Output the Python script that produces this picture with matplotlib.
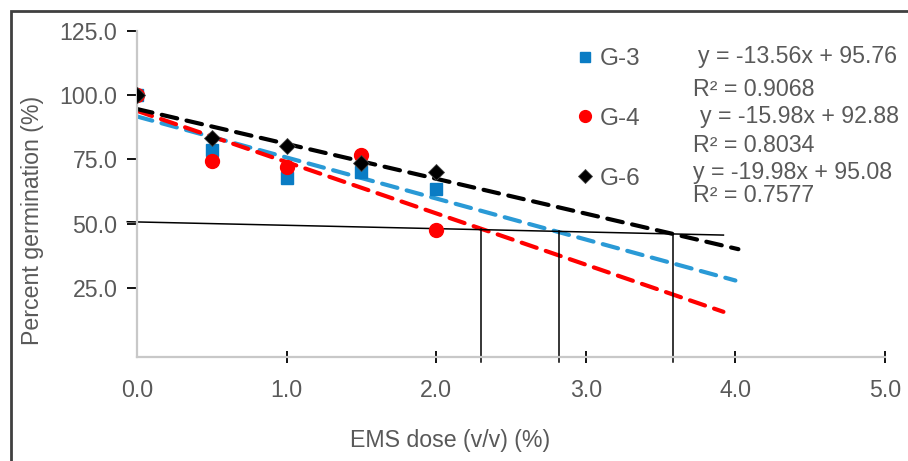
import matplotlib
matplotlib.use("Agg")

import matplotlib.pyplot as plt
from matplotlib.patches import Rectangle

plt.rcParams["font.family"] = ["Liberation Sans", "DejaVu Sans"]

# data
doses = [0.0, 0.5, 1.0, 1.5, 2.0]
g3 = [100.0, 78.8, 67.9, 70.2, 63.3]
g4 = [100.0, 74.4, 72.1, 76.7, 47.5]
g6 = [100.0, 83.4, 80.2, 73.5, 70.0]

# dashed trend lines: start and end points as drawn in the picture
trend_g3_x, trend_g3_y = [0.0, 4.00], [91.7, 27.8]
trend_g4_x, trend_g4_y = [0.0, 3.92], [93.9, 15.6]
trend_g6_x, trend_g6_y = [0.0, 4.02], [94.6, 40.0]

eq_labels = ["y = -13.56x + 95.76", "R² = 0.9068",
             "y = -15.98x + 92.88", "R² = 0.8034",
             "y = -19.98x + 95.08", "R² = 0.7577"]

# LD50 read-off construction
ref_x = [-0.065, 3.92]
ref_y = [50.7, 45.5]
cut_x = [2.30, 2.82, 3.58]
cut_top = [47.7, 47.0, 46.0]

xticks = [0, 1, 2, 3, 4, 5]
yticks = [25, 50, 75, 100, 125]

BLUE_PT = "#0A7CC4"
BLUE_LN = "#2A9AD6"
RED = "#FF0000"
GREY_TXT = "#595959"
FS = 16.7

W, H = 908, 461
fig = plt.figure(figsize=(W / 100, H / 100), dpi=100)
ax = fig.add_axes([137 / W, (H - 357) / H, 748 / W, 326 / H])

for tx, ty, col in [(trend_g3_x, trend_g3_y, BLUE_LN),
                    (trend_g4_x, trend_g4_y, RED),
                    (trend_g6_x, trend_g6_y, "black")]:
    ax.plot(tx, ty, color=col, lw=3.0, ls=(0, (3.8, 2.3)),
            dash_capstyle="round", zorder=2)

ax.plot(doses, g3, "s", color=BLUE_PT, ms=8, ls="none", label="G-3", zorder=3)
ax.plot(doses, g4, "o", color=RED, ms=10, ls="none", label="G-4", zorder=3)
ax.plot(doses, g6, "D", color="black", mec="#444", mew=0.6, ms=8.5, ls="none",
        label="G-6", zorder=4)

ax.plot(ref_x, ref_y, color="black", lw=1.1, clip_on=False, zorder=2)
for xc, yt in zip(cut_x, cut_top):
    ax.plot([xc, xc], [yt, -4], color="black", lw=1.1, clip_on=False, zorder=2)

ax.set_xlim(0, 5)
ax.set_ylim(-2, 125)
ax.set_xticks(xticks)
ax.set_xticklabels([f"{v:.1f}" for v in xticks])
ax.set_yticks(yticks)
ax.set_yticklabels([f"{v:.1f}" for v in yticks])

for s in ["top", "right"]:
    ax.spines[s].set_visible(False)
for s in ["left", "bottom"]:
    ax.spines[s].set_color("#C8C8C8")
    ax.spines[s].set_linewidth(1.6)

ax.tick_params(axis="y", direction="out", length=7.2, width=1.3, color="black",
               pad=7, labelsize=FS, labelcolor=GREY_TXT)
ax.tick_params(axis="x", direction="inout", length=9, width=1.3, color="black",
               pad=11.5, labelsize=FS, labelcolor=GREY_TXT)
ax.xaxis.get_major_ticks()[0].tick1line.set_visible(False)

fig.text(33 / W, 1 - 220 / H, "Percent germination (%)", rotation=90,
         ha="center", va="center", fontsize=FS, color=GREY_TXT)
fig.text(450 / W, 1 - 440 / H, "EMS dose (v/v) (%)",
         ha="center", va="center", fontsize=FS, color=GREY_TXT)

leg = ax.legend(loc="upper left", bbox_to_anchor=(578 / W, 1 - 48 / H),
                bbox_transform=fig.transFigure, frameon=False, fontsize=17.5,
                handlelength=0.6, handletextpad=0.3, labelspacing=1.56,
                borderpad=0, borderaxespad=0, markerscale=0.85)
for t in leg.get_texts():
    t.set_color(GREY_TXT)

eq_pos = [(698, 57), (693, 89), (700, 117), (693, 146), (693, 172), (693, 196)]
for txt, (px, py) in zip(eq_labels, eq_pos):
    fig.text(px / W, 1 - py / H, txt, ha="left", va="center",
             fontsize=FS, color=GREY_TXT)

fig.patches.append(Rectangle((11 / W, -0.1), 1.2, 1.1 - 11 / H,
                             transform=fig.transFigure, fill=False,
                             edgecolor="#404040", lw=2))

fig.savefig("out.png", dpi=100)
